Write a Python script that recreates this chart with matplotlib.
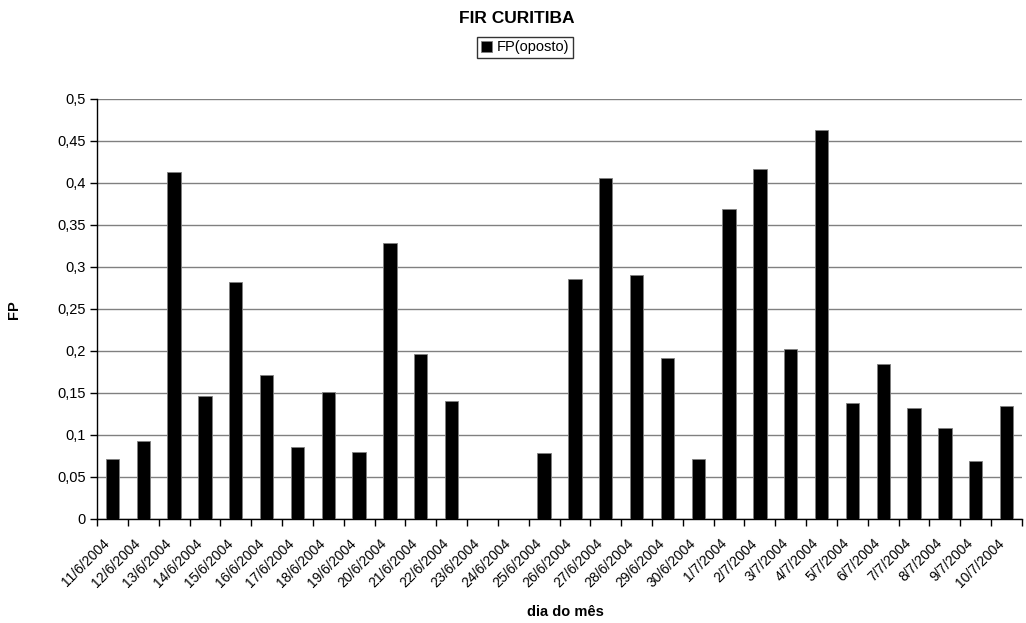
import numpy as np
import matplotlib.pyplot as plt
import matplotlib.transforms as mtransforms
from matplotlib.ticker import FixedLocator

plt.rcParams['font.family'] = ['Liberation Sans', 'DejaVu Sans']

# daily FP values for FIR Curitiba
dias = ['11/6/2004', '12/6/2004', '13/6/2004', '14/6/2004', '15/6/2004',
        '16/6/2004', '17/6/2004', '18/6/2004', '19/6/2004', '20/6/2004',
        '21/6/2004', '22/6/2004', '23/6/2004', '24/6/2004', '25/6/2004',
        '26/6/2004', '27/6/2004', '28/6/2004', '29/6/2004', '30/6/2004',
        '1/7/2004', '2/7/2004', '3/7/2004', '4/7/2004', '5/7/2004',
        '6/7/2004', '7/7/2004', '8/7/2004', '9/7/2004', '10/7/2004']
fp_oposto = [0.071, 0.093, 0.413, 0.146, 0.282,
             0.171, 0.086, 0.151, 0.080, 0.328,
             0.196, 0.140, 0.0, 0.0, 0.078,
             0.286, 0.406, 0.290, 0.192, 0.072,
             0.369, 0.417, 0.202, 0.463, 0.138,
             0.184, 0.132, 0.108, 0.069, 0.135]
y_ticks = [0, 0.05, 0.1, 0.15, 0.2, 0.25, 0.3, 0.35, 0.4, 0.45, 0.5]
y_labels = ['0', '0,05', '0,1', '0,15', '0,2', '0,25', '0,3', '0,35', '0,4', '0,45', '0,5']

fig = plt.figure(figsize=(10.26, 6.23), dpi=100)
ax = fig.add_axes([97/1026, 1 - 519/623, 925/1026, 420/623])

x = np.arange(len(dias))
ax.bar(x, fp_oposto, width=0.43, color='black', edgecolor='#808080',
       linewidth=0.6, zorder=3, label='FP(oposto)')

ax.set_xlim(-0.5, len(dias) - 0.5)
ax.set_ylim(0, 0.5)

# gridlines and axis styling
ax.set_yticks(y_ticks)
ax.set_yticklabels(y_labels, fontsize=10.5)
ax.yaxis.grid(True, color='#808080', linewidth=1.0, zorder=0)
ax.tick_params(axis='y', direction='out', length=5, width=1, pad=3)

# ticks between categories, labels centered on the bars
ax.xaxis.set_major_locator(FixedLocator(np.arange(len(dias) + 1) - 0.5))
ax.xaxis.set_major_formatter(plt.NullFormatter())
ax.xaxis.set_minor_locator(FixedLocator(x))
ax.set_xticklabels(dias, minor=True, rotation=45, ha='right', va='center',
                   rotation_mode='anchor', fontsize=10)
ax.tick_params(axis='x', which='major', direction='out', length=5, width=1)
ax.tick_params(axis='x', which='minor', length=0, pad=16)
shift = mtransforms.ScaledTranslation(-5/100, 0, fig.dpi_scale_trans)
for lbl in ax.get_xticklabels(minor=True):
    lbl.set_transform(lbl.get_transform() + shift)

for side in ['top', 'right']:
    ax.spines[side].set_visible(False)
ax.spines['left'].set_linewidth(1.0)
ax.spines['bottom'].set_linewidth(1.0)

fig.text(0.504, 0.982, 'FIR CURITIBA', ha='center', va='top',
         fontsize=12.5, fontweight='bold')
fig.text(14/1026, 1 - 310/623, 'FP', rotation=90, ha='center', va='center',
         fontsize=10.5, fontweight='bold')
fig.text(565/1026, 1 - 612/623, 'dia do mês', ha='center', va='center',
         fontsize=10.5, fontweight='bold')

leg = fig.legend(loc='center', bbox_to_anchor=(525/1026, 1 - 47.5/623),
                 fontsize=10.5, frameon=True, fancybox=False, handlelength=0.8,
                 handleheight=0.8, handletextpad=0.3, borderpad=0.25,
                 borderaxespad=0)
leg.get_frame().set_edgecolor('black')
leg.get_frame().set_linewidth(1.0)

plt.savefig('out.png', dpi=100)
